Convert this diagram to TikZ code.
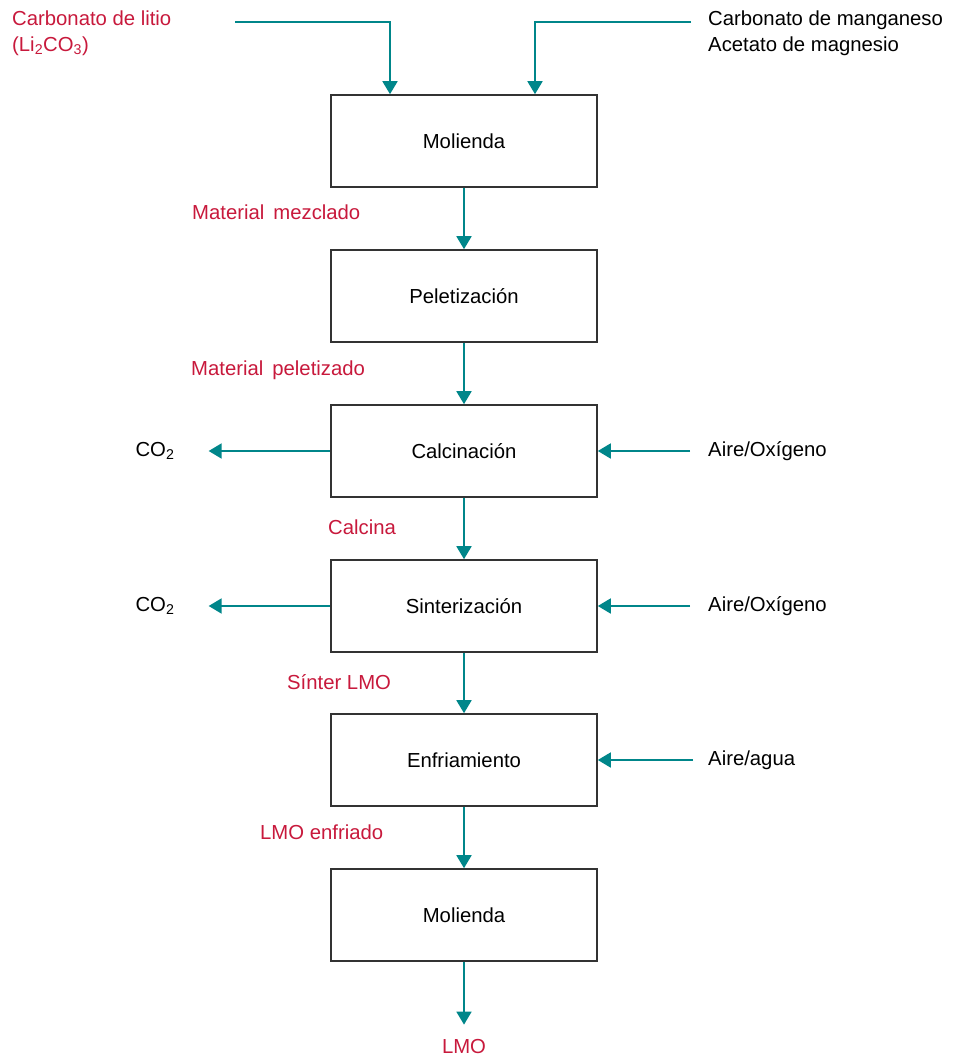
\documentclass[tikz,border=0pt]{standalone}
\usepackage{fontspec}
\setmainfont{Liberation Sans}
\usetikzlibrary{arrows.meta}
\definecolor{flow}{HTML}{00868A}
\definecolor{lab}{HTML}{C8193C}
\definecolor{boxline}{HTML}{333333}
\begin{document}
\begin{tikzpicture}[x=1pt,y=-1pt,
  every node/.style={font=\fontsize{20.3}{26}\selectfont, inner sep=0pt},
  proc/.style={draw=boxline, line width=1.6pt, minimum width=266pt, minimum height=92pt, fill=white},
  flowarrow/.style={draw=flow, line width=1.8pt, -{Triangle[width=15pt,length=13pt]}},
  redlab/.style={text=lab, anchor=west},
  blklab/.style={text=black, anchor=west}]
\useasboundingbox[fill=white] (0,0) rectangle (952,1056);

% process boxes
\node[proc] (mol1) at (464,141) {Molienda};
\node[proc] (pel)  at (464,296) {Peletización};
\node[proc] (cal)  at (464,451) {Calcinación};
\node[proc] (sin)  at (464,606) {Sinterización};
\node[proc] (enf)  at (464,760) {Enfriamiento};
\node[proc] (mol2) at (464,915) {Molienda};

% inputs at top
\node[redlab, align=left] (li) at (12,33) {Carbonato de litio\\(Li\textsubscript{2}CO\textsubscript{3})};
\node[blklab, align=left] (mn) at (708,33) {Carbonato de manganeso\\Acetato de magnesio};
\coordinate (liend) at (235,22);
\coordinate (mnend) at (691,22);
\draw[flowarrow] (liend) -| ([xshift=-74pt]mol1.north);
\draw[flowarrow] (mnend) -| ([xshift=71pt]mol1.north);

% intermediate labels
\node[redlab] (l1) at (192,212) {Material\, mezclado};
\node[redlab] (l2) at (191,370) {Material\, peletizado};
\node[redlab] (l3) at (328,527) {Calcina};
\node[redlab] (l4) at (287,682) {Sínter LMO};
\node[redlab] (l5) at (260,832) {LMO enfriado};
\node[text=lab] (lmo) at (464,1046) {LMO};

% vertical flow
\draw[flowarrow] (mol1.south) -- (pel.north);
\draw[flowarrow] (pel.south) -- (cal.north);
\draw[flowarrow] (cal.south) -- (sin.north);
\draw[flowarrow] (sin.south) -- (enf.north);
\draw[flowarrow] (enf.south) -- (mol2.north);
\draw[flowarrow] (mol2.south) -- ([yshift=14pt]lmo.north);

% side streams
\node[blklab] (a1) at (708,451) {Aire/Oxígeno};
\node[blklab] (a2) at (708,606) {Aire/Oxígeno};
\node[blklab] (a3) at (708,760) {Aire/agua};
\draw[flowarrow] ([xshift=-18pt]a1.west) -- (cal.east);
\draw[flowarrow] ([xshift=-18pt]a2.west) -- (sin.east);
\draw[flowarrow] ([xshift=-15pt]a3.west) -- (enf.east);

\node (c1) at (155,451) {CO\textsubscript{2}};
\node (c2) at (155,606) {CO\textsubscript{2}};
\draw[flowarrow] (cal.west) -- ([xshift=34pt]c1.east);
\draw[flowarrow] (sin.west) -- ([xshift=34pt]c2.east);
\end{tikzpicture}
\end{document}
